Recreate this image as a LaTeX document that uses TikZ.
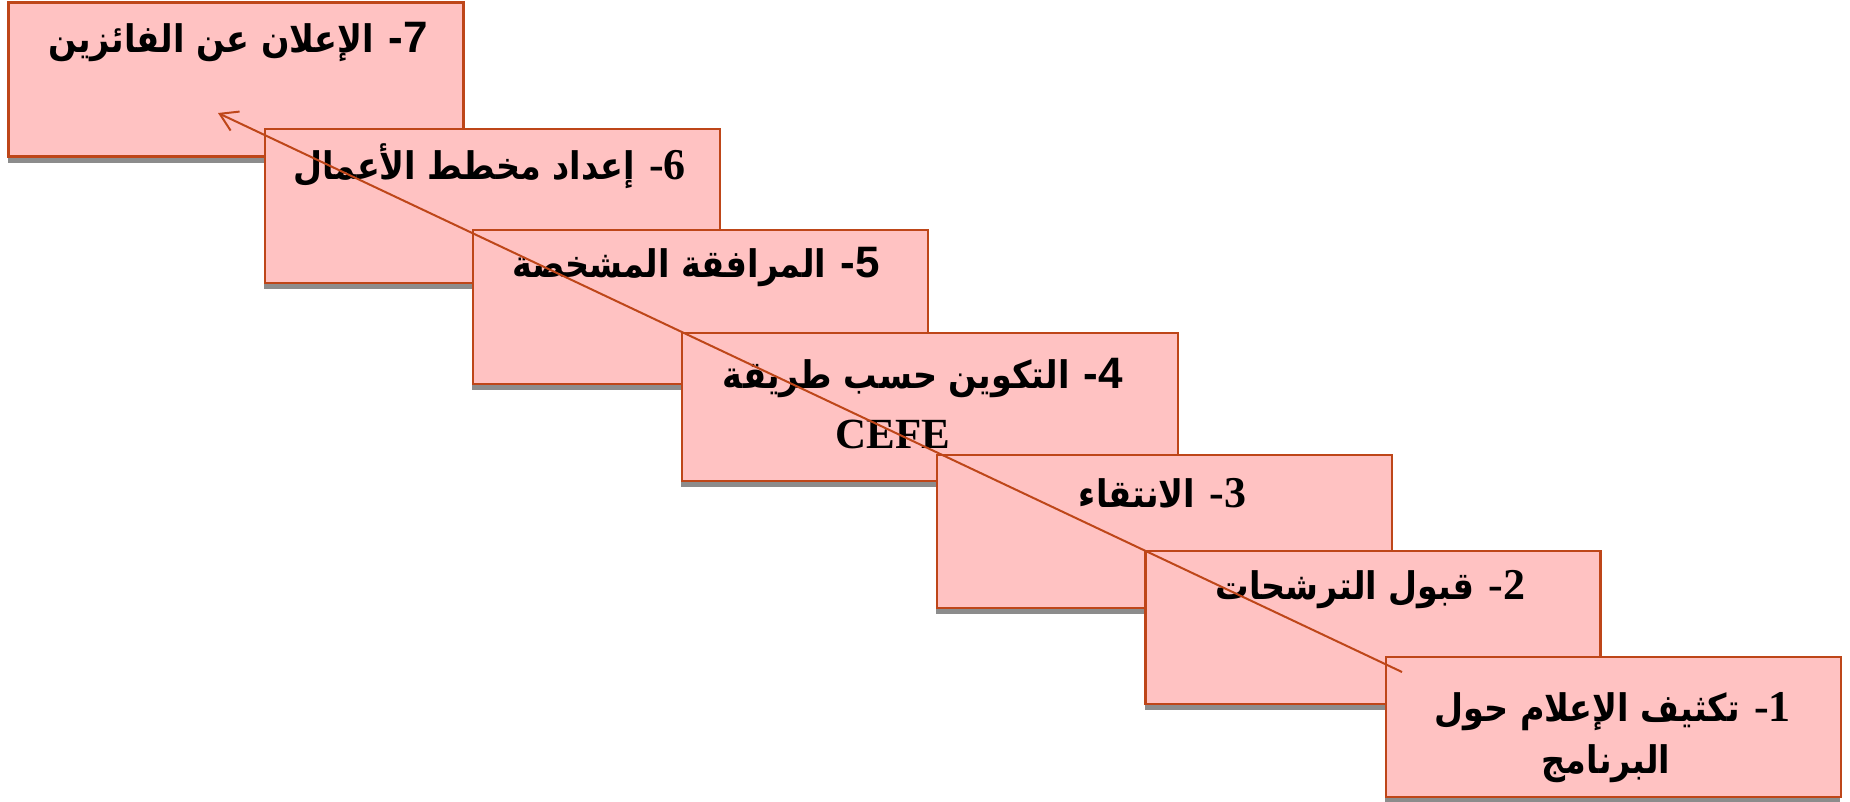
\documentclass[tikz,border=0pt]{standalone}
\usepackage{fontspec}
\usepackage{tikz}
\usetikzlibrary{arrows.meta}
\usetikzlibrary{shadows}
\TeXXeTstate=1
\newfontfamily\arabicfont[Script=Arabic, FakeStretch=0.88]{DejaVu Sans}
\newfontfamily\timesfont{Liberation Serif}
\newfontfamily\arialfont{Liberation Sans}
\definecolor{boxfill}{RGB}{255,194,194}
\definecolor{boxline}{RGB}{190,70,25}
\tikzset{
  stepbox/.style={draw=boxline, fill=boxfill, line width=2.5pt, inner sep=0pt,
    minimum width=455pt, minimum height=154pt,
    drop shadow={shadow xshift=-1pt, shadow yshift=-6pt, fill=black, opacity=0.45}},
  steptext/.style={font=\fontsize{38}{56}\selectfont\bfseries, align=center, inner sep=0pt},
}
\newcommand{\stepnum}[2]{{\fontsize{44}{56}\selectfont#1 #2}}

\begin{document}
\begin{tikzpicture}[x=1pt, y=-1pt]
        \useasboundingbox (0,0) rectangle (1850,801);

        \node[stepbox] (announce) at (236,79.5) {};
        \node[steptext] (announcetxt) at (244,42) {\beginR\stepnum\arialfont{-7} {\arabicfont الإعلان عن الفائزين}\endR};

        \node[stepbox] (plan) at (492.5,206) {};
        \node[steptext] (plantxt) at (495,166) {\beginR\stepnum\timesfont{-6} {\arabicfont إعداد مخطط الأعمال}\endR};

        \node[stepbox] (coaching) at (700.5,307) {};
        \node[steptext] (coachingtxt) at (702,267) {\beginR\stepnum\arialfont{-5} {\arabicfont المرافقة المشخصة}\endR};

        \node[stepbox, minimum width=496pt, minimum height=148pt] (training) at (930,407) {};
        \node[steptext] (trainingtxt) at (929,404) {\beginR\stepnum\arialfont{-4} {\arabicfont التكوين حسب طريقة}\endR\\[4pt]{\fontsize{43}{56}\selectfont\timesfont CEFE}\hspace*{72pt}};

        \node[stepbox, minimum height=153pt] (selection) at (1164.5,531.5) {};
        \node[steptext] (selectiontxt) at (1168,493) {\beginR\stepnum\timesfont{-3} {\arabicfont الانتقاء}\endR};

        \node[stepbox, minimum height=153pt] (applications) at (1373,627.5) {};
        \node[steptext] (applicationstxt) at (1376,590) {\beginR\stepnum\timesfont{-2} {\arabicfont قبول الترشحات}\endR};

        \node[stepbox, minimum height=140pt] (awareness) at (1613.5,727) {};
        \node[steptext] (awarenesstxt) at (1618,738) {\beginR\stepnum\timesfont{-1} {\arabicfont تكثيف الإعلام حول}\endR\\[-4pt]\beginR{\arabicfont البرنامج}\endR\hspace*{24pt}};

        \coordinate (start) at (1402,672);
        \coordinate (finish) at (218,113);
        \draw[boxline, line width=2pt, -{Straight Barb[length=17pt, width=21pt]}] (start) -- (finish);
    \end{tikzpicture}
\end{document}
